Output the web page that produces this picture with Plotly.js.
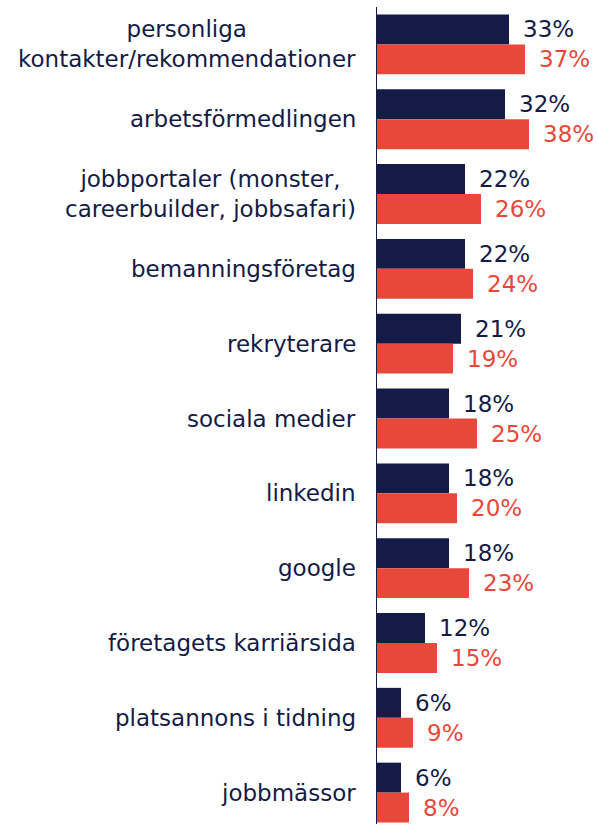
<!DOCTYPE html>
<html>
<head>
<meta charset="utf-8">
<script src="https://cdn.plot.ly/plotly-3.0.1.min.js"></script>
<style>
html,body{margin:0;padding:0;background:#fff;}
#wrap{width:597px;height:824px;overflow:hidden;}
#chart{width:597px;height:830px;}
</style>
</head>
<body>
<div id="wrap"><div id="chart"></div></div>
<script>
const categories = [
  "personliga<br>kontakter/rekommendationer",
  "arbetsförmedlingen",
  "jobbportaler (monster,<br>careerbuilder, jobbsafari)",
  "bemanningsföretag",
  "rekryterare",
  "sociala medier",
  "linkedin",
  "google",
  "företagets karriärsida",
  "platsannons i tidning",
  "jobbmässor"
];
const seriesA = [33, 32, 22, 22, 21, 18, 18, 18, 12, 6, 6];
const seriesB = [37, 38, 26, 24, 19, 25, 20, 23, 15, 9, 8];

const navy = "#131b46";
const red = "#e8483a";
const font = "DejaVu Sans, Verdana, sans-serif";

const traces = [
  {type: "bar", orientation: "h", y: categories, x: seriesA, name: "A",
   marker: {color: navy, line: {width: 0}}, hoverinfo: "none"},
  {type: "bar", orientation: "h", y: categories, x: seriesB, name: "B",
   marker: {color: red, line: {width: 0}}, hoverinfo: "none"}
];

const annotations = [];
categories.forEach((c, i) => {
  annotations.push({xref: "paper", yref: "y", x: 0, y: c, text: c,
    xanchor: "right", yanchor: "middle", align: "center", xshift: -19, showarrow: false,
    font: {family: font, size: 23, color: navy}});
  annotations.push({xref: "x", yref: "y", x: seriesA[i], y: c, text: seriesA[i] + "%",
    xanchor: "left", yanchor: "middle", xshift: 12, yshift: 15, showarrow: false,
    font: {family: font, size: 23, color: navy}});
  annotations.push({xref: "x", yref: "y", x: seriesB[i], y: c, text: seriesB[i] + "%",
    xanchor: "left", yanchor: "middle", xshift: 12, yshift: -15, showarrow: false,
    font: {family: font, size: 23, color: red}});
});

const layout = {
  width: 597, height: 830,
  margin: {l: 377, r: 0, t: 7, b: 0, pad: 0},
  paper_bgcolor: "#fff", plot_bgcolor: "#fff",
  showlegend: false,
  barmode: "group", bargap: 0.2, bargroupgap: 0,
  xaxis: {range: [0, 55], showgrid: false, zeroline: false, showticklabels: false, showline: false, fixedrange: true},
  yaxis: {autorange: "reversed", showgrid: false, zeroline: false, showticklabels: false,
          showline: true, linecolor: navy, linewidth: 1.5, ticks: "", fixedrange: true},
  annotations: annotations,
  font: {family: font}
};

Plotly.newPlot("chart", traces, layout, {displayModeBar: false, staticPlot: true});
</script>
</body>
</html>
